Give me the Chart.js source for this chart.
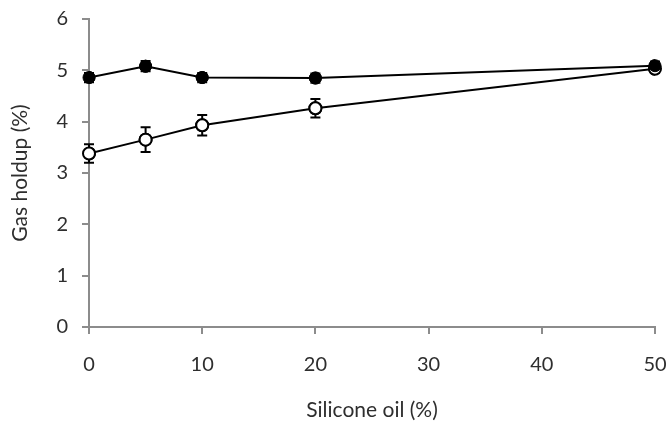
<!DOCTYPE html>
<html>
<head>
<meta charset="utf-8">
<script src="https://cdn.jsdelivr.net/npm/chart.js@4.4.1/dist/chart.umd.min.js"></script>
<style>
  html, body { margin: 0; padding: 0; background: #fff; }
  #wrap { width: 669px; height: 423px; }
</style>
</head>
<body>
<div id="wrap"><canvas id="c" width="669" height="423"></canvas></div>
<script>
// Silicone oil content (%)
const siliconeOil = [0, 5, 10, 20, 50];
// Gas holdup (%) — filled-circle series and its error
const holdupFilled = [4.86, 5.08, 4.86, 4.85, 5.09];
const errFilled = [0.09, 0.10, 0.09, 0.09, 0.08];
// Gas holdup (%) — open-circle series and its error
const holdupOpen = [3.38, 3.65, 3.93, 4.26, 5.03];
const errOpen = [0.18, 0.24, 0.20, 0.18, 0.08];
// Axis ticks
const xTicks = [0, 10, 20, 30, 40, 50];
const yTicks = [0, 1, 2, 3, 4, 5, 6];

const FONT = "Lato, 'Liberation Sans', sans-serif";
const TEXT = '#2e2e2e';
const AXIS = '#8c8c8c';

const toPoints = (xs, ys) => xs.map((x, i) => ({ x, y: ys[i] }));

// Vertical error bars with caps, drawn through the chart's scales
const errorBars = {
  id: 'errorBars',
  afterDatasetsDraw(chart) {
    const { ctx, scales: { x, y } } = chart;
    chart.data.datasets.forEach(ds => {
      const errs = ds.errors;
      if (!errs) return;
      ctx.save();
      ctx.strokeStyle = '#000';
      ctx.lineWidth = 2;
      ds.data.forEach((p, i) => {
        const px = x.getPixelForValue(p.x);
        const top = y.getPixelForValue(p.y + errs[i]);
        const bot = y.getPixelForValue(p.y - errs[i]);
        ctx.beginPath();
        ctx.moveTo(px, top); ctx.lineTo(px, bot);
        ctx.moveTo(px - 5, top); ctx.lineTo(px + 5, top);
        ctx.moveTo(px - 5, bot); ctx.lineTo(px + 5, bot);
        ctx.stroke();
      });
      ctx.restore();
    });
    // markers sit on top of the bars
    chart.data.datasets.forEach((ds, di) => {
      chart.getDatasetMeta(di).data.forEach(pt => pt.draw(ctx, chart.chartArea));
    });
  }
};

new Chart(document.getElementById('c'), {
  type: 'scatter',
  data: {
    datasets: [
      {
        data: toPoints(siliconeOil, holdupOpen),
        errors: errOpen,
        showLine: true,
        borderColor: '#000',
        borderWidth: 2,
        pointRadius: 6,
        pointBorderWidth: 2,
        pointBackgroundColor: '#fff',
        pointBorderColor: '#000',
        tension: 0
      },
      {
        data: toPoints(siliconeOil, holdupFilled),
        errors: errFilled,
        showLine: true,
        borderColor: '#000',
        borderWidth: 2,
        pointRadius: 6,
        pointBorderWidth: 1,
        pointBackgroundColor: '#000',
        pointBorderColor: '#000',
        tension: 0
      }
    ]
  },
  options: {
    responsive: false,
    animation: false,
    devicePixelRatio: 1,
    layout: { padding: { top: 19, right: 14, left: 0, bottom: 0 } },
    plugins: { legend: { display: false }, tooltip: { enabled: false } },
    scales: {
      x: {
        type: 'linear',
        min: 0, max: 50,
        afterBuildTicks: s => { s.ticks = xTicks.map(v => ({ value: v })); },
        afterFit: s => { s.height = 96; s.paddingLeft = 0; s.paddingRight = 0; },
        border: { color: AXIS, width: 2 },
        grid: { drawOnChartArea: false, color: AXIS, lineWidth: 2, tickLength: 7 },
        ticks: { color: TEXT, font: { family: FONT, size: 20 }, padding: 19, maxRotation: 0 },
        title: { display: true, text: 'Silicone oil (%)', color: TEXT, font: { family: FONT, size: 21 }, padding: { top: 18, bottom: 0 } }
      },
      y: {
        type: 'linear',
        min: 0, max: 6,
        afterBuildTicks: s => { s.ticks = yTicks.map(v => ({ value: v })); },
        afterFit: s => { s.width = 89; s.paddingTop = 0; s.paddingBottom = 0; },
        border: { color: AXIS, width: 2 },
        grid: { drawOnChartArea: false, color: AXIS, lineWidth: 2, tickLength: 7 },
        ticks: { color: TEXT, font: { family: FONT, size: 20 }, padding: 14 },
        title: { display: true, text: 'Gas holdup (%)', color: TEXT, font: { family: FONT, size: 21 }, padding: { top: 8, bottom: 0 } }
      }
    }
  },
  plugins: [errorBars]
});
</script>
</body>
</html>
